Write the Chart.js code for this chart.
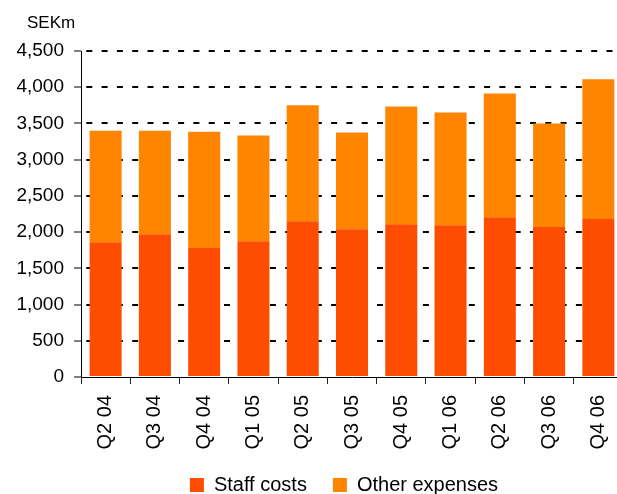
<!DOCTYPE html>
<html>
<head>
<meta charset="utf-8">
<script src="https://cdn.jsdelivr.net/npm/chart.js@4"></script>
<style>
  html, body { margin: 0; padding: 0; background: #fff; overflow: hidden; }
  #wrap { position: relative; width: 640px; height: 505px; }
</style>
</head>
<body>
<div id="wrap"><canvas id="costs"></canvas></div>
<script>
// Quarterly operating expenses, SEK million
const quarters = ['Q2 04', 'Q3 04', 'Q4 04', 'Q1 05', 'Q2 05', 'Q3 05', 'Q4 05', 'Q1 06', 'Q2 06', 'Q3 06', 'Q4 06'];
const staffCosts = [1860, 1970, 1780, 1875, 2150, 2040, 2110, 2095, 2205, 2070, 2180];
const otherExpenses = [1540, 1430, 1605, 1460, 1600, 1335, 1625, 1555, 1710, 1430, 1930];
const seriesNames = ['Staff costs', 'Other expenses'];
const yMax = 4500;
const yStep = 500;
const unitLabel = 'SEKm';

const FONT = '"Liberation Sans", Arial, Helvetica, sans-serif';

// Unit caption above the value axis
const unitCaption = {
  id: 'unitCaption',
  afterDraw(chart) {
    const ctx = chart.ctx;
    ctx.save();
    ctx.font = '17px ' + FONT;
    ctx.fillStyle = '#000';
    ctx.textBaseline = 'alphabetic';
    ctx.textAlign = 'left';
    ctx.fillText(unitLabel, chart.chartArea.left - 54, 28);
    ctx.restore();
  }
};

// Nudge the legend row slightly left of the plot-area centre
const legendNudge = {
  id: 'legendNudge',
  afterLayout(chart) {
    if (chart.legend) {
      chart.legend.left -= 8;
      chart.legend.right -= 8;
    }
  }
};

new Chart(document.getElementById('costs'), {
  type: 'bar',
  data: {
    labels: quarters,
    datasets: [
      { label: seriesNames[0], data: staffCosts, backgroundColor: '#FF4D00', borderWidth: 0 },
      { label: seriesNames[1], data: otherExpenses, backgroundColor: '#FF8500', borderWidth: 0 }
    ]
  },
  options: {
    responsive: true,
    maintainAspectRatio: false,
    animation: false,
    devicePixelRatio: 1,
    datasets: { bar: { barPercentage: 0.65, categoryPercentage: 1.0 } },
    layout: { padding: { top: 51, right: 17, bottom: 0, left: 0 } },
    plugins: {
      title: { display: false },
      tooltip: { enabled: false },
      legend: {
        position: 'bottom',
        fullSize: false,
        labels: {
          boxWidth: 14,
          boxHeight: 14,
          padding: 26,
          color: '#000',
          font: { family: FONT, size: 20 }
        }
      }
    },
    scales: {
      x: {
        stacked: true,
        offset: true,
        grid: {
          display: true,
          offset: true,
          drawOnChartArea: false,
          drawTicks: true,
          tickLength: 7,
          color: '#222',
          lineWidth: 1
        },
        border: { display: true, color: '#000', width: 1 },
        ticks: {
          autoSkip: false,
          minRotation: 90,
          maxRotation: 90,
          padding: 11,
          color: '#000',
          font: { family: FONT, size: 20 }
        },
        afterFit(scale) { scale.height = 72; }
      },
      y: {
        stacked: true,
        min: 0,
        max: yMax,
        grid: {
          display: true,
          drawTicks: true,
          tickLength: 7,
          lineWidth: 2,
          color: (c) => (c.tick && c.tick.value === 0) ? 'rgba(0,0,0,0)' : '#000',
          tickColor: '#000',
          tickWidth: 1,
          tickBorderDash: [],
          tickBorderDashOffset: 0
        },
        border: { display: true, color: '#000', width: 1, dash: [6, 9.3], dashOffset: 11 },
        ticks: {
          stepSize: yStep,
          padding: 10,
          color: '#000',
          font: { family: FONT, size: 19 },
          callback: (v) => Number(v).toLocaleString('en-US')
        },
        afterFit(scale) { scale.width = 81; }
      }
    }
  },
  plugins: [unitCaption, legendNudge]
});
</script>
</body>
</html>
